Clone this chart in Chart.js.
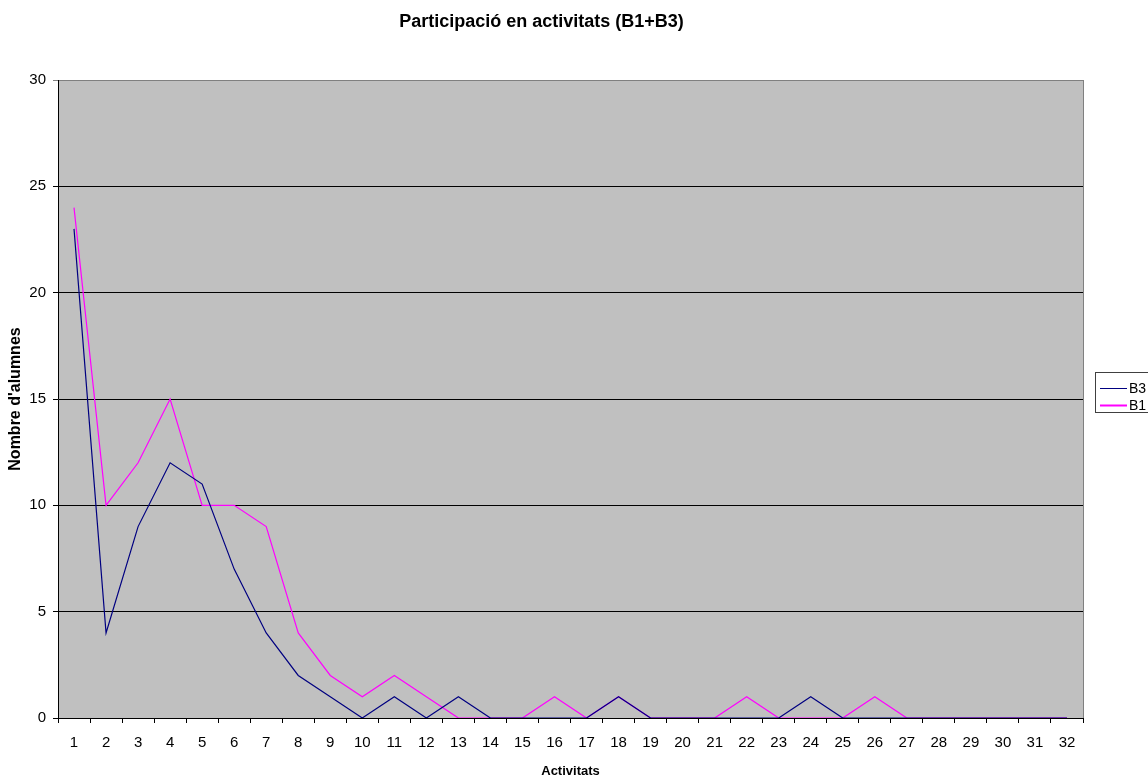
<!DOCTYPE html>
<html>
<head>
<meta charset="utf-8">
<title>Participació en activitats (B1+B3)</title>
<script src="https://cdn.jsdelivr.net/npm/chart.js@4/dist/chart.umd.min.js"></script>
<style>
  html, body { margin: 0; padding: 0; background: #ffffff; }
  #wrap { width: 1148px; height: 780px; position: relative; }
</style>
</head>
<body>
<div id="wrap"><canvas id="chart" width="1148" height="780"></canvas></div>
<script>
// Activity numbers along the x axis
const activitats = ['1','2','3','4','5','6','7','8','9','10','11','12','13','14','15','16',
                    '17','18','19','20','21','22','23','24','25','26','27','28','29','30','31','32'];

// Number of students per activity, group B3
const alumnesB3 = [23, 4, 9, 12, 11, 7, 4, 2, 1, 0, 1, 0, 1, 0, 0, 0,
                   0, 1, 0, 0, 0, 0, 0, 1, 0, 0, 0, 0, 0, 0, 0, 0];

// Number of students per activity, group B1
const alumnesB1 = [24, 10, 12, 15, 10, 10, 9, 4, 2, 1, 2, 1, 0, 0, 0, 1,
                   0, 1, 0, 0, 0, 1, 0, 0, 0, 1, 0, 0, 0, 0, 0, 0];

// Y axis tick values
const yTicks = [0, 5, 10, 15, 20, 25, 30];

const FONT = 'Arial, "Liberation Sans", sans-serif';
const NARROW = '"Liberation Sans Narrow", "Arial Narrow", Arial, sans-serif';

// Grey plot area, grey right border and a boxed legend on the right
const plotFrame = {
  id: 'plotFrame',
  beforeDraw(chart) {
    const { ctx, chartArea: a } = chart;
    ctx.save();
    ctx.fillStyle = '#c0c0c0';
    ctx.fillRect(a.left, a.top, a.right - a.left, a.bottom - a.top);
    ctx.restore();
  },
  afterDraw(chart) {
    const { ctx, chartArea: a } = chart;
    ctx.save();
    ctx.strokeStyle = '#808080';
    ctx.lineWidth = 1;
    ctx.beginPath();
    ctx.moveTo(Math.round(a.right) + 0.5, a.top);
    ctx.lineTo(Math.round(a.right) + 0.5, a.bottom);
    ctx.stroke();

    // legend box
    const bx = 1095.5, by = 372.5, bw = 70, bh = 40;
    ctx.fillStyle = '#ffffff';
    ctx.fillRect(bx, by, bw, bh);
    ctx.strokeStyle = '#404040';
    ctx.strokeRect(bx, by, bw, bh);
    ctx.font = '14px ' + NARROW;
    ctx.textBaseline = 'middle';
    ctx.textAlign = 'left';
    const rows = [388.5, 405.5];
    chart.data.datasets.forEach((ds, i) => {
      const y = rows[i];
      ctx.strokeStyle = ds.borderColor;
      ctx.lineWidth = ds.legendWidth || 1;
      ctx.beginPath();
      ctx.moveTo(1100, y);
      ctx.lineTo(1127, y);
      ctx.stroke();
      ctx.fillStyle = '#000000';
      ctx.fillText(ds.label, 1129, y + 0.5);
    });
    ctx.restore();
  }
};

new Chart(document.getElementById('chart'), {
  type: 'line',
  data: {
    labels: activitats,
    datasets: [
      {
        label: 'B3',
        data: alumnesB3,
        borderColor: '#000080',
        borderWidth: 1.2,
        pointRadius: 0,
        tension: 0,
        fill: false
      },
      {
        label: 'B1',
        data: alumnesB1,
        borderColor: '#ff00ff',
        borderWidth: 1.2,
        legendWidth: 2,
        pointRadius: 0,
        tension: 0,
        fill: false
      }
    ]
  },
  options: {
    responsive: false,
    animation: false,
    events: [],
    layout: { padding: { left: 0, right: 65, top: 0, bottom: 0 } },
    plugins: {
      legend: { display: false },
      tooltip: { enabled: false },
      title: {
        display: true,
        text: 'Participació en activitats (B1+B3)',
        color: '#000000',
        font: { family: FONT, size: 18, weight: 'bold', lineHeight: 1.2 },
        padding: { top: 11.2, bottom: 47.2 }
      }
    },
    scales: {
      x: {
        type: 'category',
        offset: true,
        grid: {
          display: true,
          offset: true,
          drawOnChartArea: false,
          drawTicks: true,
          tickLength: 5,
          color: '#000000',
          lineWidth: 1
        },
        border: { display: true, color: '#000000', width: 1 },
        ticks: {
          color: '#000000',
          font: { family: NARROW, size: 15 },
          padding: 11,
          maxRotation: 0,
          autoSkip: false
        },
        title: {
          display: true,
          text: 'Activitats',
          color: '#000000',
          font: { family: FONT, size: 13, weight: 'bold', lineHeight: 1.2 },
          padding: { top: 0, bottom: 0.5 }
        },
        afterFit(scale) { scale.height = 62; }
      },
      y: {
        min: 0,
        max: 30,
        afterBuildTicks(scale) { scale.ticks = yTicks.map(v => ({ value: v })); },
        grid: {
          display: true,
          drawOnChartArea: true,
          drawTicks: true,
          tickLength: 5,
          color: (c) => (c.tick && c.tick.value === 30 ? '#808080' : '#000000'),
          lineWidth: 1
        },
        border: { display: true, color: '#000000', width: 1 },
        ticks: {
          color: '#000000',
          font: { family: NARROW, size: 15 },
          padding: 7
        },
        title: {
          display: true,
          text: "Nombre d'alumnes",
          color: '#000000',
          font: { family: FONT, size: 16, weight: 'bold', lineHeight: 1.2 },
          padding: { top: 6.4, bottom: 0 }
        },
        afterFit(scale) { scale.width = 58; }
      }
    }
  },
  plugins: [plotFrame]
});
</script>
</body>
</html>
